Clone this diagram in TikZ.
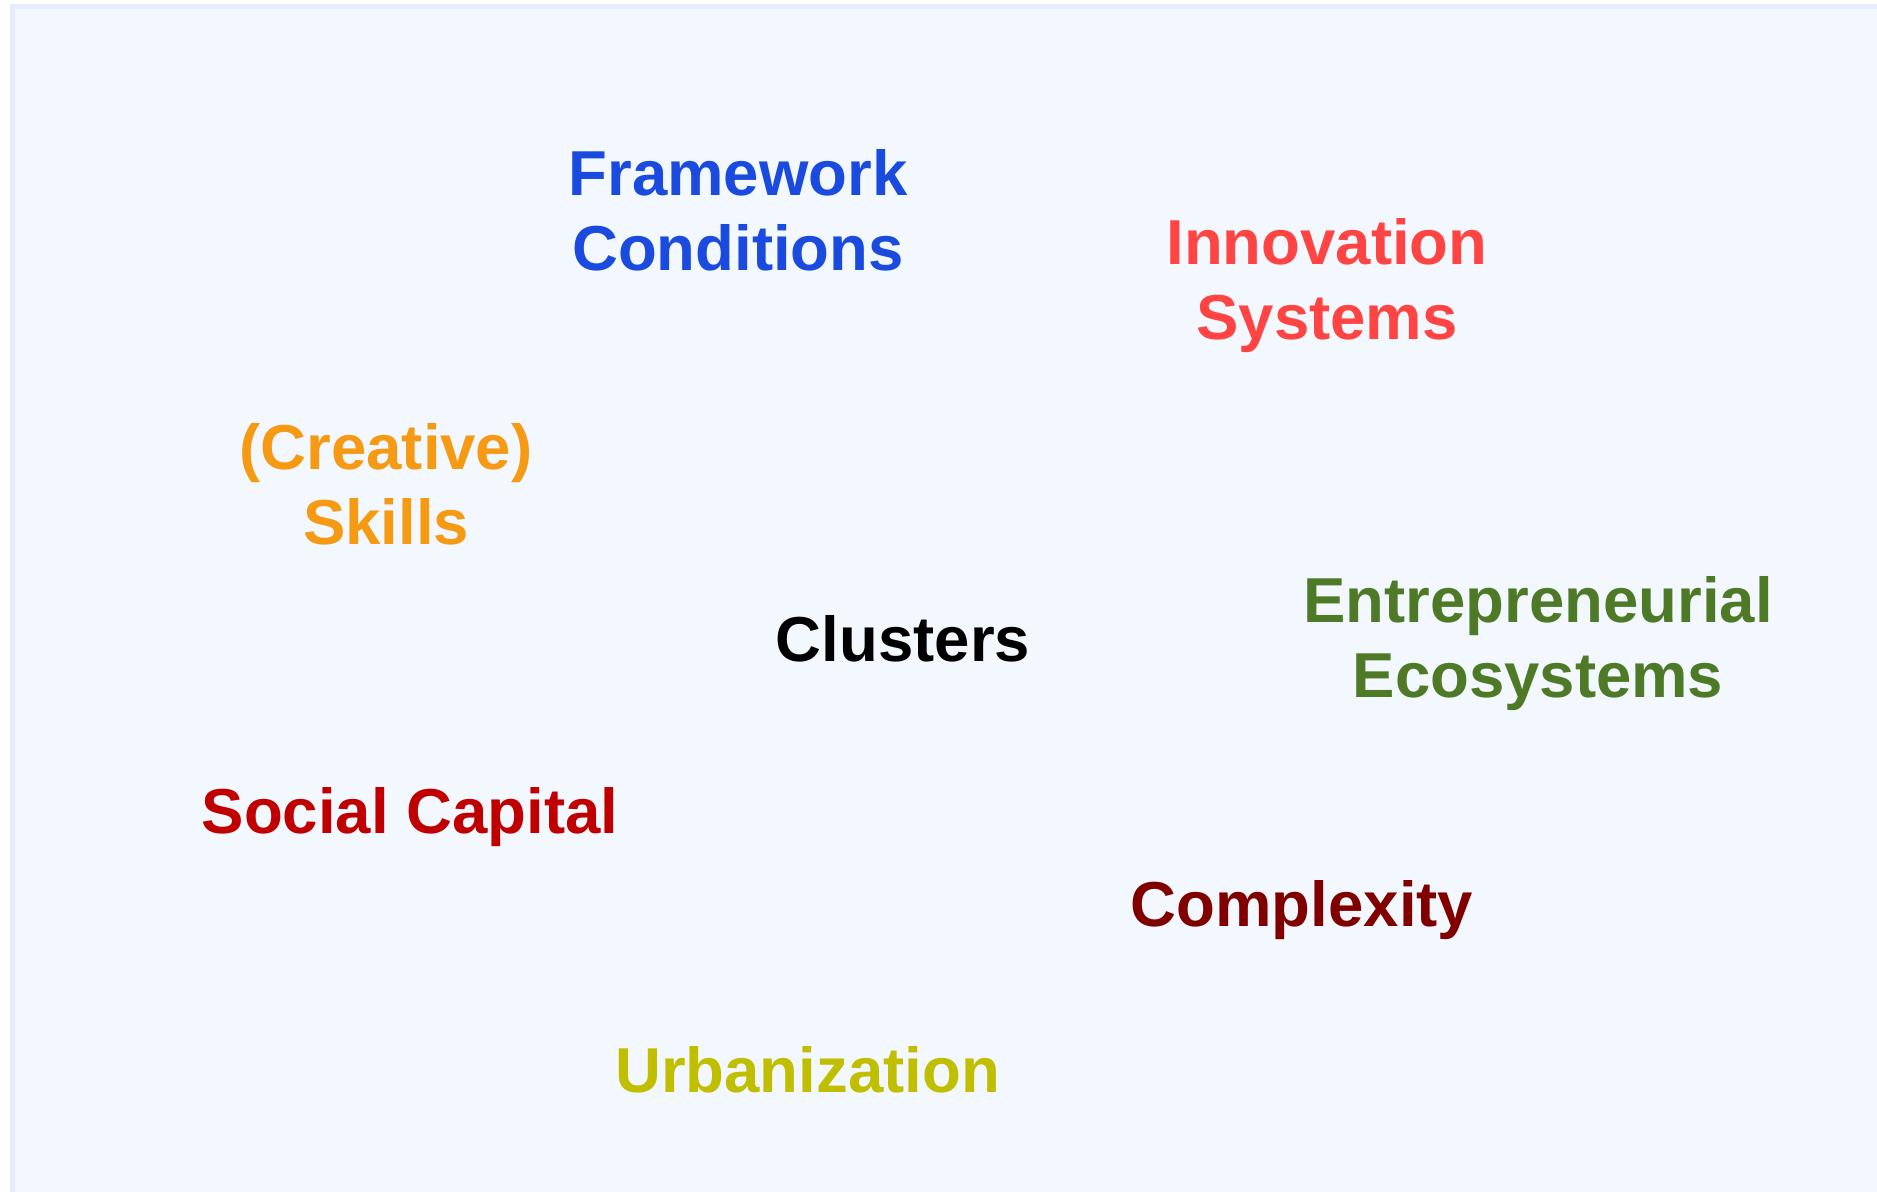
\documentclass[tikz,border=0pt]{standalone}
\usepackage{fontspec}
\setmainfont{Liberation Sans}
\definecolor{bgfill}{HTML}{F3F7FE}
\definecolor{bgline}{HTML}{E6ECFB}
\definecolor{cblue}{HTML}{1A4BDE}
\definecolor{cred}{HTML}{FF4444}
\definecolor{corange}{HTML}{F59A12}
\definecolor{cgreen}{HTML}{4E7A27}
\definecolor{csocial}{HTML}{C00000}
\definecolor{ccomplex}{HTML}{800000}
\definecolor{curban}{HTML}{BFBF00}
\newcommand{\lbl}[1]{\strut #1\strut}
\tikzset{
  term/.style={font=\fontsize{31.75pt}{37.5pt}\selectfont\bfseries, align=center, inner sep=0pt, anchor=center}
}
\begin{document}
\begin{tikzpicture}[x=0.5pt,y=-0.5pt]
\useasboundingbox (0,0) rectangle (1877,1192);
\fill[white] (0,0) rectangle (1877,1192);
\begin{scope}
\clip (0,0) rectangle (1877,1192);
\draw[bgline, fill=bgfill, line width=2.5pt] (12.5,6.5) rectangle (1910,1230);
\end{scope}
\node[term, text=cblue] (fc) at (738,218) {\lbl{Framework}\\\lbl{Conditions}};
\node[term, text=cred] (is) at (1327,287) {\lbl{Innovation}\\\lbl{Systems}};
\node[term, text=corange] (cs) at (386,492) {\lbl{(Creative)}\\\lbl{Skills}};
\node[term, text=black] (cl) at (903,646) {\lbl{Clusters}};
\node[term, text=cgreen] (ee) at (1538,645) {\lbl{Entrepreneurial}\\\lbl{Ecosystems}};
\node[term, text=csocial] (sc) at (410,818) {\lbl{Social Capital}};
\node[term, text=ccomplex] (cx) at (1302,911) {\lbl{Complexity}};
\node[term, text=curban] (ur) at (807.5,1077) {\lbl{Urbanization}};
\end{tikzpicture}
\end{document}
